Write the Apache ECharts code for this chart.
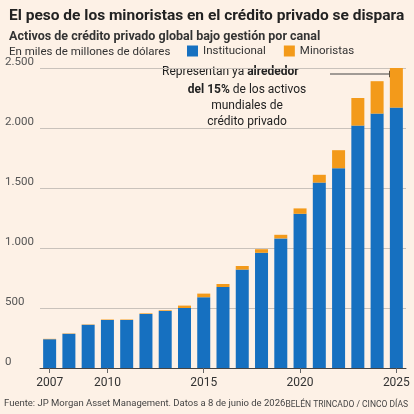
<!DOCTYPE html>
<html><head><meta charset="utf-8">
<script src="https://cdn.jsdelivr.net/npm/echarts@6/dist/echarts.min.js"></script>
<style>html,body{margin:0;background:#fdf1e6}#c{width:414px;height:414px}</style>
</head><body><div id="c"></div>
<script>
var years = ['2007','2008','2009','2010','2011','2012','2013','2014','2015','2016','2017','2018','2019','2020','2021','2022','2023','2024','2025'];
var institucional = [240, 285, 360, 400, 400, 450, 475, 500, 590, 675, 820, 960, 1080, 1285, 1545, 1665, 2020, 2120, 2170];
var minoristas = [3, 3, 3, 4, 4, 5, 6, 20, 30, 25, 30, 30, 30, 45, 65, 150, 230, 270, 380];
var yTicks = [0, 500, 1000, 1500, 2000, 2500];
var shownYears = ['2007','2010','2015','2020','2025'];

var font = 'Roboto';
var chart = echarts.init(document.getElementById('c'));
chart.setOption({
    backgroundColor: '#fdf1e6',
    textStyle: {fontFamily: font},
    title: [
        {text: 'El peso de los minoristas en el crédito privado se dispara', left: 4, top: 3,
            textStyle: {fontSize: 15.5, fontWeight: 'bold', color: '#222', fontFamily: font}},
        {text: 'Activos de crédito privado global bajo gestión por canal', left: 4, top: 25,
            textStyle: {fontSize: 12.5, fontWeight: 'bold', color: '#333', fontFamily: font}},
        {text: 'En miles de millones de dólares', left: 4, top: 41,
            textStyle: {fontSize: 11.5, fontWeight: 'normal', color: '#333', fontFamily: font}}
    ],
    legend: {
        left: 182, top: 40, itemWidth: 11, itemHeight: 11, itemGap: 18,
        icon: 'rect',
        textStyle: {fontSize: 11.5, color: '#333', fontFamily: font},
        data: ['Institucional', 'Minoristas']
    },
    grid: {left: 40, right: 8, top: 68, bottom: 46},
    xAxis: {
        type: 'category', data: years,
        axisLine: {lineStyle: {color: '#444'}},
        axisTick: {show: true, alignWithLabel: true, length: 5, lineStyle: {color: '#666'}},
        axisLabel: {
            interval: function (i, v) { return shownYears.indexOf(v) >= 0; },
            fontSize: 12, color: '#333', margin: 9
        }
    },
    yAxis: {
        type: 'value', min: 0, max: 2500, interval: 500,
        axisLabel: {
            align: 'left', verticalAlign: 'bottom', margin: 35, fontSize: 11.5, color: '#555',
            formatter: function (v) { return yTicks.indexOf(v) >= 0 ? v.toLocaleString('de-DE') : ''; }
        },
        splitLine: {lineStyle: {color: '#c9c2bb'}}
    },
    series: [
        {name: 'Institucional', type: 'bar', stack: 't', data: institucional, barWidth: 13,
            itemStyle: {color: '#1670c0'}},
        {name: 'Minoristas', type: 'bar', stack: 't', data: minoristas, barWidth: 13,
            itemStyle: {color: '#f39a1a'}}
    ],
    graphic: [
        {type: 'text', left: 162, top: 66, style: {
            rich: {n: {fontSize: 12, fontFamily: font, fill: '#222', lineHeight: 16},
                   b: {fontSize: 12, fontFamily: font, fill: '#222', fontWeight: 'bold', lineHeight: 16}},
            text: '{n|Representan ya }{b|alrededor}', align: 'left'}},
        {type: 'text', x: 247, y: 82, style: {
            rich: {n: {fontSize: 12, fontFamily: font, fill: '#222', lineHeight: 16},
                   b: {fontSize: 12, fontFamily: font, fill: '#222', fontWeight: 'bold', lineHeight: 16}},
            text: '{b|del 15%}{n| de los activos}\n{n|mundiales de}\n{n|crédito privado}', align: 'center'}},
        {type: 'line', shape: {x1: 330, y1: 74, x2: 394, y2: 74}, style: {stroke: '#444', lineWidth: 1}},
        {type: 'polygon', shape: {points: [[396, 74], [389, 70.5], [389, 77.5]]}, style: {fill: '#444'}},
        {type: 'text', left: 4, top: 399, style: {text: 'Fuente: JP Morgan Asset Management. Datos a 8 de junio de 2026',
            fontSize: 9.5, fill: '#444', fontFamily: font}},
        {type: 'text', right: 6, top: 400, style: {text: 'BELÉN TRINCADO / CINCO DÍAS',
            fontSize: 8.5, fill: '#444', fontFamily: font}}
    ]
});
</script></body></html>
